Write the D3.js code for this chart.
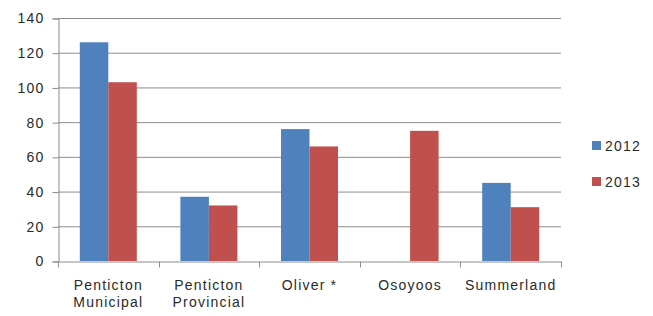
<!DOCTYPE html>
<html>
<head>
<meta charset="utf-8">
<script src="https://cdn.jsdelivr.net/npm/d3@7"></script>
<style>
  body { margin: 0; background: #fff; }
  text { font-family: "Liberation Sans", Arial, sans-serif; fill: #2a2a2a; }
</style>
</head>
<body>
<svg id="chart" width="653" height="316"></svg>
<script>
const categories = [["Penticton", "Municipal"], ["Penticton", "Provincial"], ["Oliver *"], ["Osoyoos"], ["Summerland"]];
const series = ["2012", "2013"];
const values2012 = [126, 37, 76, null, 45];
const values2013 = [103, 32, 66, 75, 31];
const yTicks = [0, 20, 40, 60, 80, 100, 120, 140];
const colors = ["#4f81bd", "#c0504d"];

const margin = { top: 18, right: 92, bottom: 55, left: 58 };
const svg = d3.select("#chart");
const width = +svg.attr("width");
const height = +svg.attr("height");
const innerWidth = width - margin.left - margin.right;
const innerHeight = height - margin.top - margin.bottom;

const keys = categories.map((c) => c.join(" "));
const x = d3.scaleBand().domain(keys).range([0, innerWidth]).padding(0);
const xSub = d3.scaleBand().domain(series).range([0, x.bandwidth()]).paddingInner(0).paddingOuter(0.765);
const y = d3.scaleLinear().domain([0, 140]).range([innerHeight, 0]);

const g = svg.append("g").attr("transform", `translate(${margin.left},${margin.top})`);

// gridlines
g.append("g")
  .selectAll("line")
  .data(yTicks.filter((d) => d > 0))
  .join("line")
  .attr("x1", 0).attr("x2", innerWidth)
  .attr("y1", (d) => y(d) + 0.5).attr("y2", (d) => y(d) + 0.5)
  .attr("stroke", "#8c8c8c");

// y axis
const yAxis = g.append("g")
  .attr("transform", "translate(0.5,0.5)")
  .call(d3.axisLeft(y).tickValues(yTicks).tickSize(6).tickPadding(8));
yAxis.select(".domain").attr("stroke", "#8c8c8c");
yAxis.selectAll(".tick line").attr("stroke", "#8c8c8c");
yAxis.selectAll("text").attr("font-size", 14).style("letter-spacing", "1.2px").attr("fill", "#2a2a2a");

// bars
const rows = keys.map((k, i) => ({ key: k, vals: [values2012[i], values2013[i]] }));
const groups = g.append("g").selectAll("g").data(rows).join("g")
  .attr("transform", (d) => `translate(${x(d.key)},0)`);
groups.selectAll("rect")
  .data((d) => d.vals.map((v, j) => ({ s: series[j], v, j })).filter((e) => e.v != null))
  .join("rect")
  .attr("x", (d) => xSub(d.s))
  .attr("y", (d) => y(d.v))
  .attr("width", xSub.bandwidth())
  .attr("height", (d) => innerHeight - y(d.v))
  .attr("fill", (d) => colors[d.j]);

// x axis
const xAxis = g.append("g")
  .attr("transform", `translate(0,${innerHeight + 0.5})`)
  .call(d3.axisBottom(x).tickSize(0).tickFormat(""));
xAxis.select(".domain").attr("stroke", "#8c8c8c");
const bounds = x.domain().map((k) => x(k)).concat([innerWidth]);
xAxis.selectAll(".sep").data(bounds).join("line")
  .attr("class", "sep")
  .attr("x1", (d) => Math.round(d) + 0.5).attr("x2", (d) => Math.round(d) + 0.5)
  .attr("y1", 0).attr("y2", 6)
  .attr("stroke", "#8c8c8c");

const labels = g.append("g").selectAll("text").data(categories).join("text")
  .attr("x", (d, i) => x(keys[i]) + x.bandwidth() / 2)
  .attr("y", innerHeight + 29)
  .attr("text-anchor", "middle")
  .attr("font-size", 14)
  .style("letter-spacing", "1.2px");
labels.selectAll("tspan").data((d) => d).join("tspan")
  .attr("x", function () { return this.parentNode.getAttribute("x"); })
  .attr("dy", (d, i) => (i === 0 ? 0 : 17))
  .text((d) => d);

// legend
const legend = svg.append("g").attr("transform", "translate(592,141)");
const items = legend.selectAll("g").data(series).join("g")
  .attr("transform", (d, i) => `translate(0,${i * 36})`);
items.append("rect").attr("width", 9).attr("height", 9).attr("fill", (d, i) => colors[i]);
items.append("text").attr("x", 13).attr("y", 10)
  .attr("font-size", 14).style("letter-spacing", "1.2px").text((d) => d);
</script>
</body>
</html>
